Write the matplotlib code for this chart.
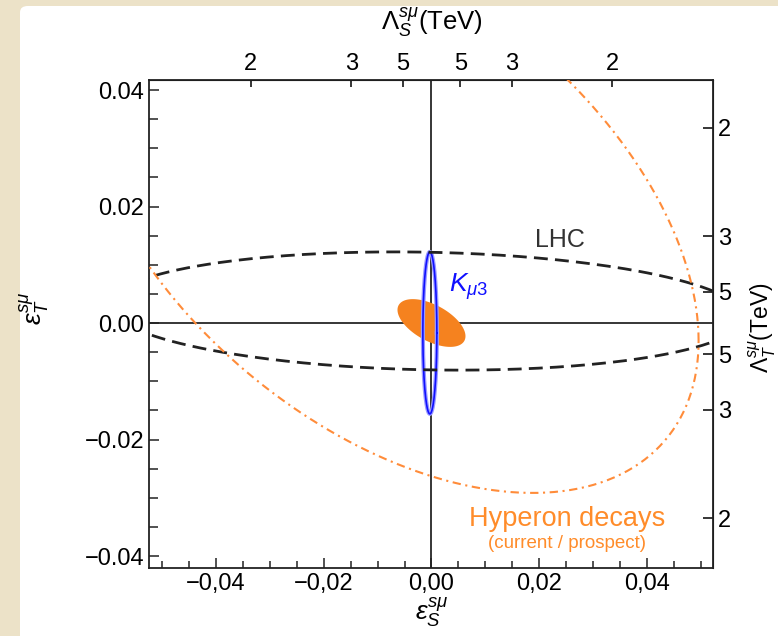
import numpy as np
import matplotlib.pyplot as plt
from matplotlib.patches import FancyBboxPatch

plt.rcParams['font.family'] = ['Liberation Sans', 'DejaVu Sans']
plt.rcParams['mathtext.fontset'] = 'custom'
plt.rcParams['mathtext.rm'] = 'Liberation Sans'
plt.rcParams['mathtext.it'] = 'Liberation Sans:italic'

# ellipses in (eps_S, eps_T): centre x, centre y, half width, half height, correlation
lhc = [-0.0009, 0.00206, 0.05882, 0.01015, -0.101]
hyp_prospect = [-0.0079, 0.01956, 0.05741, 0.04873, -0.464]
hyp_now = [0.0, 0.0, 0.0063, 0.0041, -0.55]
kmu3 = [-0.0003, -0.0017, 0.0013, 0.0139, 0.0]

lam_ticks = [2, 3, 5]
c_lam = 0.134  # eps * Lambda^2 (TeV^2)


def ell(p, n=400):
    t = np.linspace(0, 2 * np.pi, n)
    cx, cy, sx, sy, r = p
    return cx + sx * np.cos(t), cy + sy * (r * np.cos(t) + np.sqrt(1 - r * r) * np.sin(t))


fig = plt.figure(figsize=(7.78, 6.36), dpi=100, facecolor='#ece2c8')
fig.patches.append(FancyBboxPatch((20 / 778, -0.1), 1.2, 1 - 6 / 636 + 0.1,
                                  boxstyle='round,pad=0,rounding_size=0.01',
                                  transform=fig.transFigure, fc='white', ec='none', zorder=-5))
ax = fig.add_axes([149 / 778, 1 - 568 / 636, 564 / 778, 488 / 636])
ax.set_xlim(-0.05236, 0.05218)
ax.set_ylim(-0.04206, 0.04172)

ax.axhline(0, color='k', lw=1.1, zorder=1)
ax.axvline(0, color='k', lw=1.1, zorder=1)

x, y = ell(hyp_now)
ax.fill(x, y, color='#f5821f', lw=0, zorder=2)
x, y = ell(kmu3)
ax.plot(x, y, color='#9a9aff', lw=3, zorder=3)
ax.plot(x, y, color='#1010ff', lw=1.2, zorder=3)
x, y = ell(lhc)
ax.plot(x, y, color='#222222', lw=2.0, ls=(0, (5, 2.6)), zorder=4)
x, y = ell(hyp_prospect)
ax.plot(x, y, color='#ff8c3a', lw=1.5, ls=(0, (4, 2.2, 1, 2.2)), zorder=4)

ax.text(0.0238, 0.0142, 'LHC', fontsize=18, color='#333333', ha='center', va='center')
ax.text(0.0068, 0.0062, r'$K_{\mu3}$', fontsize=19, color='#1010ff', ha='center', va='center')
ax.text(0.0251, -0.0337, 'Hyperon decays', fontsize=19.5, color='#ff8c2a', ha='center', va='center')
ax.text(0.0251, -0.0378, '(current / prospect)', fontsize=13.5, color='#ff8c2a', ha='center', va='center')

ax.set_xticks([-0.04, -0.02, 0.0, 0.02, 0.04])
ax.set_xticklabels(['\u22120,04', '\u22120,02', '0,00', '0,02', '0,04'])
ax.set_xticks(np.arange(-0.05, 0.051, 0.005), minor=True)
ax.set_yticks([-0.04, -0.02, 0.0, 0.02, 0.04])
ax.set_yticklabels(['\u22120.04', '\u22120.02', '0.00', '0.02', '0.04'])
ax.set_yticks(np.arange(-0.04, 0.041, 0.005), minor=True)
ax.tick_params(which='both', direction='in', labelsize=17, width=1.1, color='#222222')
ax.tick_params(which='major', length=7)
ax.tick_params(which='minor', length=5)
ax.tick_params(axis='y', which='minor', length=6.5)
for s in ax.spines.values():
    s.set_linewidth(1.3)
    s.set_color('#222222')

lam_pos = [c_lam / l ** 2 for l in lam_ticks]
ticks = [-p for p in lam_pos] + [p for p in lam_pos[::-1]]
labs = [str(l) for l in lam_ticks] + [str(l) for l in lam_ticks[::-1]]
top = ax.secondary_xaxis('top')
top.set_xticks(ticks)
top.set_xticklabels(labs)
top.tick_params(direction='in', length=5, labelsize=17, width=1.1)
right = ax.secondary_yaxis('right')
right.set_yticks(ticks)
right.set_yticklabels(labs)
right.tick_params(direction='in', length=7, labelsize=17, width=1.1)

fig.text(432 / 778, 1 - 22 / 636, r'$\Lambda_S^{s\mu}$(TeV)', fontsize=18.5, ha='center', va='center')
fig.text(432 / 778, 1 - 612 / 636, r'$\epsilon_S^{s\mu}$', fontsize=19, ha='center', va='center')
fig.text(34 / 778, 1 - 308 / 636, r'$\epsilon_T^{s\mu}$', fontsize=19, ha='center', va='center', rotation=90)
fig.text(762 / 778, 1 - 328 / 636, r'$\Lambda_T^{s\mu}$(TeV)', fontsize=16.5, ha='center', va='center', rotation=90)

fig.savefig('out.png', dpi=100, facecolor=fig.get_facecolor())
